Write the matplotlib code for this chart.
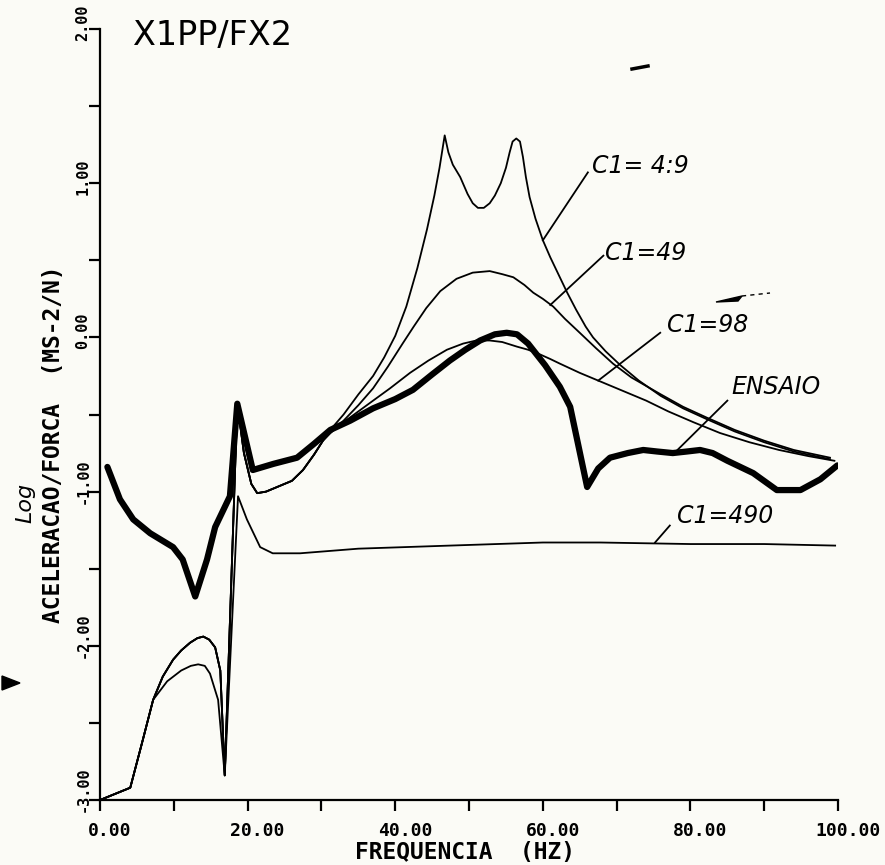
import numpy as np
import matplotlib
matplotlib.use('Agg')
import matplotlib.pyplot as plt
from matplotlib.patches import Polygon
from matplotlib.lines import Line2D
from matplotlib.transforms import ScaledTranslation

# === Values: frequency (Hz) vs log10 accel/force ===
ensaio_f = [1.0, 2.7, 4.5, 6.8, 9.9, 11.2, 12.9, 14.5, 15.6, 17.6, 18.6, 20.7, 23.5,
            26.7, 29.0, 31.2, 33.9, 37.0, 40.0, 42.4, 45.0, 47.4, 49.5, 51.5, 53.5,
            55.1, 56.5, 58.0, 60.3, 62.3, 63.7, 66.0, 67.5, 69.1, 71.5, 73.6, 75.5,
            77.6, 79.5, 81.3, 83.0, 85.0, 88.5, 91.7, 94.9, 97.6, 99.9]
ensaio_y = [-0.84, -1.05, -1.18, -1.27, -1.36, -1.44, -1.68, -1.44, -1.23, -1.03, -0.43,
            -0.86, -0.82, -0.78, -0.69, -0.60, -0.54, -0.46, -0.40, -0.34, -0.24, -0.15,
            -0.08, -0.02, 0.02, 0.03, 0.02, -0.04, -0.18, -0.32, -0.45, -0.97, -0.85,
            -0.78, -0.75, -0.73, -0.74, -0.75, -0.74, -0.73, -0.75, -0.80, -0.88, -0.99,
            -0.99, -0.92, -0.83]

# model curves C1 = 4.9 / 49 / 98 share the low-frequency part
low_f = [0.0, 4.1, 5.8, 7.2, 8.5, 9.9, 11.0, 12.2, 13.2, 14.0, 14.8, 15.6, 16.3, 16.9,
         18.6, 19.5, 20.5, 21.3, 22.5, 24.0, 26.0, 27.5, 29.0, 30.2]
low_y = [-3.0, -2.92, -2.61, -2.35, -2.20, -2.09, -2.03, -1.98, -1.95, -1.94, -1.96,
         -2.01, -2.16, -2.84, -0.43, -0.75, -0.95, -1.01, -1.00, -0.97, -0.93, -0.86,
         -0.76, -0.67]

c4_9_f = [31.2, 33.0, 35.0, 37.0, 38.5, 40.0, 41.5, 43.0, 44.3, 45.3, 46.0, 46.7, 47.2,
          47.8, 48.8, 49.8, 50.5, 51.2, 52.0, 52.8, 53.5, 54.3, 55.0, 55.5, 55.9, 56.4,
          56.9, 57.3, 57.7, 58.2, 59.0, 60.0, 61.0, 62.0, 63.3, 64.5, 65.8, 66.8, 68.5,
          70.5, 73.0, 76.0, 79.0, 82.2, 86.0, 90.0, 94.0, 98.9]
c4_9_y = [-0.60, -0.50, -0.37, -0.25, -0.13, 0.01, 0.20, 0.45, 0.70, 0.92, 1.10, 1.31,
          1.20, 1.12, 1.04, 0.93, 0.87, 0.84, 0.84, 0.87, 0.92, 1.00, 1.10, 1.20, 1.27,
          1.29, 1.27, 1.17, 1.04, 0.91, 0.77, 0.63, 0.52, 0.42, 0.29, 0.18, 0.07, 0.0,
          -0.09, -0.18, -0.28, -0.38, -0.46, -0.53, -0.61, -0.68, -0.74, -0.79]

c49_f = [31.2, 33.0, 35.0, 37.0, 39.0, 41.0, 42.5, 44.2, 46.1, 48.3, 50.5, 52.8, 54.5,
         56.0, 57.5, 58.7, 60.0, 61.4, 63.0, 65.0, 67.2, 69.5, 72.0, 76.0, 79.0, 82.2,
         86.0, 90.0, 94.0, 98.9]
c49_y = [-0.62, -0.54, -0.44, -0.33, -0.19, -0.04, 0.07, 0.19, 0.30, 0.38, 0.42, 0.43,
         0.41, 0.39, 0.34, 0.29, 0.25, 0.20, 0.12, 0.03, -0.07, -0.17, -0.26, -0.37,
         -0.45, -0.52, -0.60, -0.67, -0.73, -0.78]

c98_f = [31.2, 33.0, 35.0, 37.0, 39.3, 42.0, 44.5, 47.0, 49.2, 51.0, 52.8, 54.5, 56.5,
         58.0, 59.6, 61.0, 62.3, 65.0, 67.5, 70.5, 74.0, 77.0, 80.4, 84.0, 88.0, 92.0,
         96.0, 99.5]
c98_y = [-0.62, -0.55, -0.48, -0.41, -0.33, -0.23, -0.15, -0.08, -0.04, -0.02, -0.02,
         -0.03, -0.06, -0.08, -0.11, -0.14, -0.17, -0.23, -0.28, -0.34, -0.41, -0.48,
         -0.55, -0.62, -0.68, -0.73, -0.77, -0.80]

c490_f = [0.0, 4.1, 5.8, 7.2, 9.1, 11.0, 12.3, 13.3, 14.2, 14.9, 16.0, 16.9, 18.7, 19.9,
          21.7, 23.4, 27.1, 35.0, 47.4, 60.0, 67.8, 80.0, 90.0, 99.6]
c490_y = [-3.0, -2.92, -2.61, -2.35, -2.23, -2.16, -2.13, -2.12, -2.13, -2.18, -2.35,
          -2.84, -1.03, -1.18, -1.36, -1.40, -1.40, -1.37, -1.35, -1.33, -1.33, -1.34,
          -1.34, -1.35]

# hand-written labels: text, leader start (on curve), leader end, text anchor
labels = [
    ('C1= 4:9', (60.0, 0.63), (66.1, 1.07), (66.7, 1.11)),
    ('C1=49', (61.0, 0.21), (68.2, 0.53), (68.4, 0.55)),
    ('C1=98', (67.5, -0.28), (75.9, 0.03), (76.8, 0.08)),
    ('ENSAIO', (77.6, -0.76), (85.0, -0.41), (85.6, -0.32)),
    ('C1=490', (75.2, -1.33), (77.2, -1.22), (78.2, -1.16)),
]

BG = '#fbfbf6'
TICK_FONT = dict(family='DejaVu Sans Mono', weight='bold')

fig = plt.figure(figsize=(8.85, 8.65), dpi=100, facecolor=BG)
ax = fig.add_axes([0.113, 0.0751, 0.834, 0.8914])
ax.set_facecolor(BG)

# thin model curves
ax.plot(low_f + c4_9_f, low_y + c4_9_y, color='black', lw=1.3)
ax.plot(low_f + c49_f, low_y + c49_y, color='black', lw=1.3)
ax.plot(low_f + c98_f, low_y + c98_y, color='black', lw=1.3)
ax.plot(c490_f, c490_y, color='black', lw=1.3)
# measured curve
ax.plot(ensaio_f, ensaio_y, color='black', lw=4.5, solid_joinstyle='round',
        solid_capstyle='round')

for txt, p0, p1, ptxt in labels:
    ax.plot([p0[0], p1[0]], [p0[1], p1[1]], color='black', lw=1.3)
    ax.text(ptxt[0], ptxt[1], txt, fontsize=17, style='italic', ha='left',
            va='center', family='DejaVu Sans')

ax.set_xlim(0, 100)
ax.set_ylim(-3, 2)

xt = np.arange(0, 101, 10)
ax.set_xticks(xt)
ax.set_xticklabels([f'{v:.2f}' if v % 20 == 0 else '' for v in xt], **TICK_FONT)
yt = np.arange(-3, 2.01, 0.5)
ax.set_yticks(yt)
ax.set_yticklabels([f'{v:.2f}' if v == int(v) else '' for v in yt], **TICK_FONT)

ax.tick_params(direction='out', length=8, width=1.6)
ax.tick_params(axis='x', pad=8, labelsize=13)
ax.tick_params(axis='y', pad=-1, labelsize=11)
for lbl in ax.get_xticklabels():
    lbl.set_transform(lbl.get_transform() + ScaledTranslation(0.1, 0, fig.dpi_scale_trans))
for lbl in ax.get_yticklabels():
    lbl.set_rotation(90)
    lbl.set_va('bottom')
    lbl.set_ha('right')
    lbl.set_transform(lbl.get_transform() + ScaledTranslation(0, -0.12, fig.dpi_scale_trans))

for side in ('top', 'right'):
    ax.spines[side].set_visible(False)
for side in ('left', 'bottom'):
    ax.spines[side].set_linewidth(1.6)

ax.set_xlabel('FREQUENCIA  (HZ)', fontsize=16.5, **TICK_FONT)
ax.xaxis.set_label_coords(0.495, -0.053)
ax.set_ylabel('ACELERACAO/FORCA  (MS-2/N)', fontsize=16.5, **TICK_FONT)
ax.yaxis.set_label_coords(-0.047, 0.462)

fig.text(133 / 885, 1 - 45 / 865, 'X1PP/FX2', fontsize=24, ha='left', va='baseline',
         family='DejaVu Sans')
fig.text(25 / 885, 1 - 503 / 865, 'Log', fontsize=16, rotation=90, style='italic',
         ha='center', va='center', family='DejaVu Sans')

# stray pen marks on the scanned sheet
W, H = 885.0, 865.0
fig.add_artist(Polygon([(2 / W, 1 - 676 / H), (20 / W, 1 - 683 / H), (2 / W, 1 - 690 / H)],
                       closed=True, color='black', transform=fig.transFigure))
fig.add_artist(Line2D([632 / W, 648 / W], [1 - 69 / H, 1 - 66 / H], color='black', lw=2.5,
                      transform=fig.transFigure))
fig.add_artist(Polygon([(716 / W, 1 - 302 / H), (742 / W, 1 - 296 / H), (738 / W, 1 - 301 / H)],
                       closed=True, color='black', transform=fig.transFigure))
fig.add_artist(Line2D([742 / W, 770 / W], [1 - 296 / H, 1 - 293 / H], color='black', lw=1,
                      ls=(0, (3, 3)), transform=fig.transFigure))

fig.savefig('out.png', dpi=100, facecolor=BG)
